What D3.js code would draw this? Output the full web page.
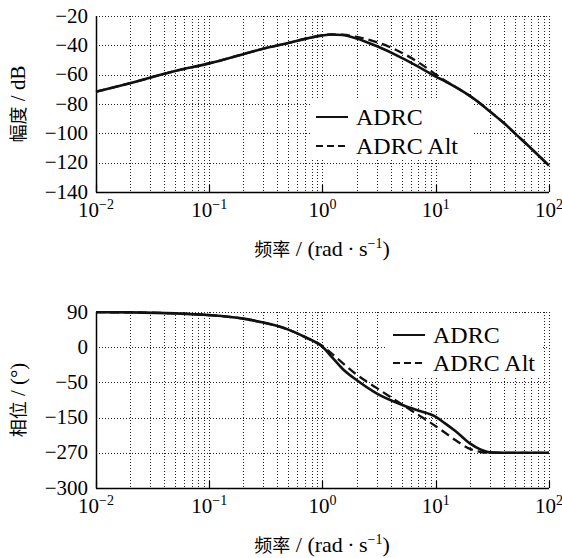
<!DOCTYPE html>
<html>
<head>
<meta charset="utf-8">
<script src="https://cdn.jsdelivr.net/npm/d3@7"></script>
<style>
  body { margin: 0; background: #fff; }
  svg { display: block; }
  text { font-family: "Liberation Serif", "DejaVu Serif", serif; fill: #000; }
  .cjk { font-family: "Noto Sans CJK SC", sans-serif; }
</style>
</head>
<body>
<svg id="chart" width="562" height="558" font-family="Liberation Serif, serif"></svg>
<script>
// data
var freq = [0.01, 0.02, 0.05, 0.1, 0.2, 0.3, 0.5, 0.7, 1, 1.2, 1.5, 2, 3, 5, 7, 10, 12, 15, 20, 25, 30, 40, 50, 70, 100];
var magADRC = [-71.6, -65.8, -57.5, -52.3, -46, -42.3, -38.4, -35.6, -33.2, -32.6, -33, -35.3, -40.5, -48.5, -54.5, -61.3, -64.3, -68.5, -74.5, -80, -85, -93, -100, -110.5, -122];
var magAlt = [-71.6, -65.8, -57.5, -52.3, -46, -42.3, -38.4, -35.6, -33.2, -32.6, -32.8, -34.3, -37.8, -45, -51.5, -59.8, -64, -68.5, -74.5, -80, -85, -93, -100, -110.5, -122];
var phaseADRC = [89.5, 89, 86.5, 82, 73, 63, 45, 26, 1, -24, -55, -84, -118, -147, -162, -178, -194, -215, -246, -262, -269, -270, -270, -270, -270];
var phaseAlt = [89.5, 89, 86.5, 82, 73, 63, 45, 26, 3, -16, -40, -70, -104, -146, -173, -202, -218, -238, -260, -268, -270, -270, -270, -270, -270];

var xDecades = [0.01, 0.1, 1, 10, 100];
var xExp = ["\u22122", "\u22121", "0", "1", "2"];
var magTicks = [-20, -40, -60, -80, -100, -120, -140];
var phaseTicks = [90, 0, -90, -180, -270, -360];
var phaseTickLabels = ["90", "0", "\u221250", "\u2212150", "\u2212270", "\u2212300"];

var svg = d3.select("#chart");
var left = 96, right = 549;

function panel(cfg) {
    var x = d3.scaleLog().domain([0.01, 100]).range([left, right]);
    var y = d3.scaleLinear().domain(cfg.domain).range([cfg.top, cfg.top + 176]);
    var g = svg.append("g");
    var bottom = y.range()[1];

    // minor + major vertical grid
    var minors = [];
    for (var d = 0; d < 4; d++) {
        for (var k = 1; k <= 10; k++) minors.push(xDecades[d] * k);
    }
    g.selectAll(".vg").data(minors).enter().append("line")
        .attr("x1", function(v){ return Math.round(x(v)) + 0.5; })
        .attr("x2", function(v){ return Math.round(x(v)) + 0.5; })
        .attr("y1", y.range()[0]).attr("y2", bottom)
        .attr("stroke", "#222").attr("stroke-width", 1).attr("stroke-dasharray", "1,2");
    g.selectAll(".hg").data(cfg.ticks).enter().append("line")
        .attr("x1", left).attr("x2", right)
        .attr("y1", function(v){ return Math.round(y(v)) + 0.5; })
        .attr("y2", function(v){ return Math.round(y(v)) + 0.5; })
        .attr("stroke", "#222").attr("stroke-width", 1).attr("stroke-dasharray", "1,2");

    // legend box (hides grid)
    g.append("rect").attr("x", cfg.leg.x).attr("y", cfg.leg.y)
        .attr("width", cfg.leg.w).attr("height", cfg.leg.h).attr("fill", "#fff");

    // axes lines
    g.append("line").attr("x1", left + 0.5).attr("x2", left + 0.5)
        .attr("y1", y.range()[0]).attr("y2", bottom + 0.5)
        .attr("stroke", "#000").attr("stroke-width", 1.5);
    g.append("line").attr("x1", left).attr("x2", right)
        .attr("y1", bottom + 0.5).attr("y2", bottom + 0.5)
        .attr("stroke", "#000").attr("stroke-width", 1.5);
    g.selectAll(".xt").data(xDecades).enter().append("line")
        .attr("x1", function(v){ return Math.round(x(v)) + 0.5; })
        .attr("x2", function(v){ return Math.round(x(v)) + 0.5; })
        .attr("y1", bottom).attr("y2", bottom - 7)
        .attr("stroke", "#000").attr("stroke-width", 1.2);

    // y tick labels
    g.selectAll(".yl").data(cfg.ticks).enter().append("text")
        .attr("x", 88).attr("y", function(v){ return y(v) + 6.5; })
        .attr("text-anchor", "end").style("font-size", "21px")
        .text(function(v, i){ return cfg.labels[i]; });

    // x tick labels 10^n
    var xl = g.selectAll(".xl").data(xDecades).enter().append("text")
        .attr("x", function(v){ return x(v); })
        .attr("y", bottom + 25)
        .attr("text-anchor", "middle").style("font-size", "21px");
    xl.append("tspan").text("10");
    xl.append("tspan").attr("dy", -8).style("font-size", "14px")
        .text(function(v, i){ return xExp[i]; });

    // x title
    var xt = g.append("text").attr("x", 322).attr("y", bottom + 63.5)
        .attr("text-anchor", "middle").style("font-size", "22px");
    xt.append("tspan").attr("class", "cjk").style("font-size", "18px").text("频率");
    xt.append("tspan").text(" / (rad\u2009\u00b7\u2009s");
    xt.append("tspan").attr("dy", -8).style("font-size", "14px").text("\u22121");
    xt.append("tspan").attr("dy", 8).text(")");

    // y title
    var yt = g.append("text")
        .attr("transform", "translate(25," + (cfg.top + 88) + ") rotate(-90)")
        .attr("text-anchor", "middle").style("font-size", "21px");
    yt.append("tspan").attr("class", "cjk").style("font-size", "18px").text(cfg.ycjk);
    yt.append("tspan").text(cfg.yrest);

    // curves
    var line = d3.line().curve(d3.curveMonotoneX)
        .x(function(d){ return x(d[0]); }).y(function(d){ return y(d[1]); });
    g.append("path").datum(d3.zip(freq, cfg.alt)).attr("d", line)
        .attr("fill", "none").attr("stroke", "#111").attr("stroke-width", 2.3)
        .attr("stroke-dasharray", "9,5");
    g.append("path").datum(d3.zip(freq, cfg.main)).attr("d", line)
        .attr("fill", "none").attr("stroke", "#111").attr("stroke-width", 2.6);

    // legend entries
    var names = ["ADRC", "ADRC Alt"];
    names.forEach(function(n, i) {
        var ly = cfg.leg.rows[i];
        g.append("line").attr("x1", cfg.leg.lx).attr("x2", cfg.leg.lx + 32)
            .attr("y1", ly).attr("y2", ly)
            .attr("stroke", "#111").attr("stroke-width", 2)
            .attr("stroke-dasharray", i === 1 ? "7,4" : null);
        g.append("text").attr("x", cfg.leg.lx + 40).attr("y", ly + 8)
            .style("font-size", "24px").text(n);
    });
}

panel({
    top: 16, domain: [-20, -140], ticks: magTicks,
    labels: magTicks.map(function(v){ return String(v).replace("-", "\u2212"); }),
    main: magADRC, alt: magAlt,
    ycjk: "幅度", yrest: " / dB",
    leg: {x: 310, y: 98, w: 164, h: 60, lx: 316, rows: [117, 146]}
});

panel({
    top: 312, domain: [90, -360], ticks: phaseTicks, labels: phaseTickLabels,
    main: phaseADRC, alt: phaseAlt,
    ycjk: "相位", yrest: " / (\u00b0)",
    leg: {x: 386, y: 314, w: 155, h: 64, lx: 393, rows: [335, 363]}
});
</script>
</body>
</html>
